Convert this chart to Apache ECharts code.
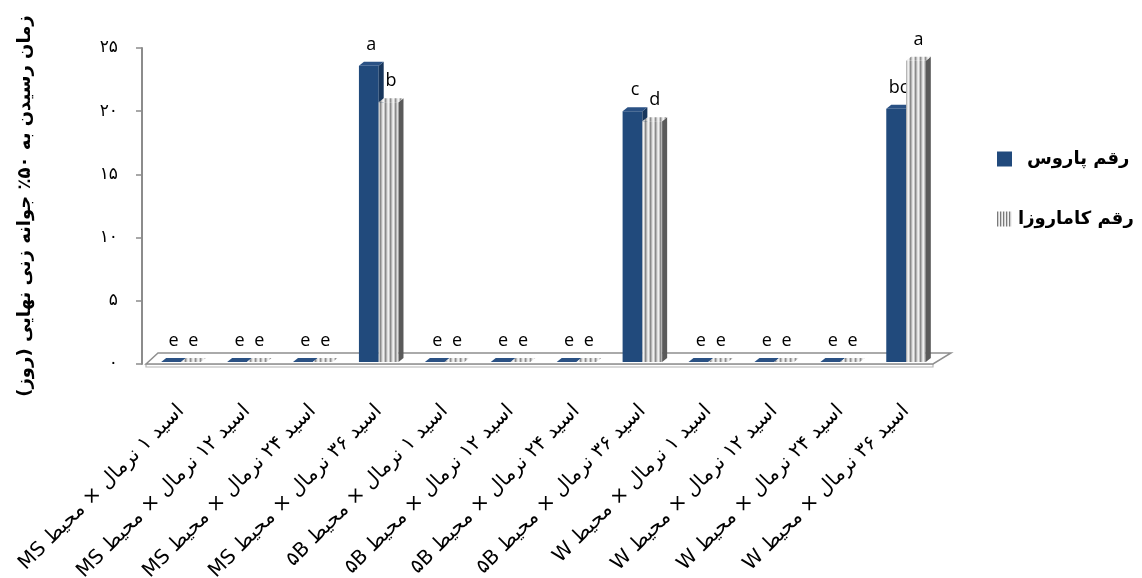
<!DOCTYPE html>
<html>
<head>
<meta charset="utf-8">
<script src="https://cdn.jsdelivr.net/npm/echarts@6/dist/echarts.min.js"></script>
<style>
  html, body { margin: 0; padding: 0; background: #ffffff; }
  #chart { width: 1142px; height: 578px; direction: rtl; }
</style>
</head>
<body>
<div id="chart"></div>
<script>
// Treatment combinations (acid concentration × culture medium)
const categories = [
  'اسید ۱ نرمال × محیط MS',
  'اسید ۱۲ نرمال × محیط MS',
  'اسید ۲۴ نرمال × محیط MS',
  'اسید ۳۶ نرمال × محیط MS',
  'اسید ۱ نرمال × محیط ۵B',
  'اسید ۱۲ نرمال × محیط ۵B',
  'اسید ۲۴ نرمال × محیط ۵B',
  'اسید ۳۶ نرمال × محیط ۵B',
  'اسید ۱ نرمال × محیط W',
  'اسید ۱۲ نرمال × محیط W',
  'اسید ۲۴ نرمال × محیط W',
  'اسید ۳۶ نرمال × محیط W'
];

// Days to 50% of final germination
const parosValues    = [0, 0, 0, 23.6, 0, 0, 0, 20.0, 0, 0, 0, 20.2];
const kamaroziValues = [0, 0, 0, 20.7, 0, 0, 0, 19.2, 0, 0, 0, 24.0];

// Mean-comparison letters
const parosLetters    = ['e', 'e', 'e', 'a', 'e', 'e', 'e', 'c', 'e', 'e', 'e', 'bc'];
const kamaroziLetters = ['e', 'e', 'e', 'b', 'e', 'e', 'e', 'd', 'e', 'e', 'e', 'a'];

const seriesNames = ['رقم پاروس', 'رقم کاماروزا'];
const yTickLabels = ['۰', '۵', '۱۰', '۱۵', '۲۰', '۲۵'];
const yAxisTitle = 'زمان رسیدن به ۵۰٪ جوانه زنی نهایی (روز)';

const ARABIC_FONT = '"DejaVu Sans", sans-serif';
const LETTER_FONT = '"Open Sans", "Liberation Sans", sans-serif';

// vertical stripe fills for the second cultivar
function stripeCanvas(cols) {
  const c = document.createElement('canvas');
  c.width = cols.length;
  c.height = 4;
  const g = c.getContext('2d');
  cols.forEach((col, i) => { g.fillStyle = col; g.fillRect(i, 0, 1, c.height); });
  return c;
}
const stripeFront = { image: stripeCanvas(['#8a8a8a', '#b4b4b4', '#dedede', '#f0f0f0', '#c6c6c6']), repeat: 'repeat' };
const stripeTop   = { image: stripeCanvas(['#8f8f8f', '#bcbcbc', '#e4e4e4', '#f2f2f2', '#cccccc']), repeat: 'repeat' };
const stripeIcon  = { image: stripeCanvas(['#7a7a7a', '#d0d0d0', '#f2f2f2']), repeat: 'repeat' };

const faces = [
  { front: '#214a7c', side: '#17365c', top: '#2a5184' },
  { front: stripeFront, side: '#5a5a5a', top: stripeTop }
];

const DEPTH_X = 5, DEPTH_Y = -4;

// pseudo-3D column: front face, right side face, top face and letter
function barRenderer(sideIdx, letters) {
  const f = faces[sideIdx];
  return function (params, api) {
    const idx = api.value(0);
    const val = api.value(1);
    const base = api.coord([idx, 0]);
    const top = api.coord([idx, val]);
    const band = api.size([1, 0])[0];
    const w = band * 0.3;
    const x0 = sideIdx === 0 ? base[0] - w : base[0];
    const x1 = x0 + w;
    const yb = base[1] - 2;
    const yt = Math.min(top[1], yb);
    const children = [];
    if (yb - yt > 0.5) {
      children.push({
        type: 'polygon',
        shape: { points: [[x0, yt], [x1, yt], [x1, yb], [x0, yb]] },
        style: { fill: f.front }
      });
      children.push({
        type: 'polygon',
        shape: { points: [[x1, yt], [x1 + DEPTH_X, yt + DEPTH_Y], [x1 + DEPTH_X, yb + DEPTH_Y], [x1, yb]] },
        style: { fill: f.side }
      });
    }
    children.push({
      type: 'polygon',
      shape: { points: [[x0, yt], [x0 + DEPTH_X, yt + DEPTH_Y], [x1 + DEPTH_X, yt + DEPTH_Y], [x1, yt]] },
      style: { fill: f.top }
    });
    children.push({
      type: 'text',
      x: (x0 + x1) / 2 + DEPTH_X / 2,
      y: yt + DEPTH_Y - 8,
      style: {
        text: letters[idx],
        fill: '#000',
        font: '18px ' + LETTER_FONT,
        align: 'center',
        verticalAlign: 'bottom'
      }
    });
    return { type: 'group', children: children };
  };
}

// thin floor slab under the columns
function floorRenderer(params) {
  const cs = params.coordSys;
  const x0 = cs.x, xr = cs.x + cs.width, yb = cs.y + cs.height;
  return {
    type: 'group',
    children: [
      {
        type: 'polygon',
        shape: { points: [[x0 - 2, yb], [xr - 6, yb], [xr - 6, yb + 3], [x0 - 2, yb + 3]] },
        style: { fill: '#ffffff', stroke: '#b4b4b4', lineWidth: 1.2 }
      },
      {
        type: 'polygon',
        shape: { points: [[x0 - 2, yb], [x0 + 10, yb - 11], [xr + 12, yb - 11], [xr - 6, yb]] },
        style: { fill: '#ffffff', stroke: '#8f8f8f', lineWidth: 1.5 }
      }
    ]
  };
}

const chart = echarts.init(document.getElementById('chart'), null, { renderer: 'canvas' });

const legendText = { color: '#000', fontSize: 18, fontWeight: 'bold', fontFamily: ARABIC_FONT };

chart.setOption({
  backgroundColor: '#ffffff',
  animation: false,
  grid: { left: 148, right: 203, top: 48, bottom: 214, containLabel: false, outerBoundsMode: 'none' },
  legend: {
    orient: 'vertical',
    left: 997,
    top: 150,
    padding: 0,
    itemWidth: 15,
    itemHeight: 15,
    itemGap: 42,
    selectedMode: false,
    data: [
      { name: seriesNames[0], icon: 'rect', itemStyle: { color: '#214a7c' },
        textStyle: Object.assign({ padding: [0, 0, 0, 10] }, legendText) },
      { name: seriesNames[1], icon: 'rect', itemStyle: { color: stripeIcon },
        textStyle: Object.assign({ padding: [0, 0, 0, 1] }, legendText) }
    ],
    textStyle: legendText
  },
  xAxis: {
    type: 'category',
    data: categories,
    axisLine: { show: false },
    axisTick: { show: false },
    splitLine: { show: false },
    axisLabel: {
      interval: 0,
      rotate: 45,
      margin: 44,
      color: '#000',
      fontSize: 20,
      fontFamily: ARABIC_FONT
    }
  },
  yAxis: {
    type: 'value',
    min: 0,
    max: 25,
    interval: 5,
    offset: 6,
    axisLine: { show: true, lineStyle: { color: '#8c8c8c', width: 2 } },
    axisTick: { show: true, length: 6, lineStyle: { color: '#8c8c8c', width: 1.5 } },
    splitLine: { show: false },
    axisLabel: {
      margin: 24,
      color: '#000',
      fontSize: 17,
      fontFamily: ARABIC_FONT,
      formatter: function (v) { return yTickLabels[Math.round(v / 5)]; }
    },
    name: yAxisTitle,
    nameLocation: 'middle',
    nameRotate: 90,
    nameGap: 108,
    nameTextStyle: { color: '#000', fontSize: 18, fontWeight: 'bold', fontFamily: ARABIC_FONT }
  },
  series: [
    {
      type: 'custom',
      name: 'floor',
      silent: true,
      z: 1,
      renderItem: floorRenderer,
      data: [0]
    },
    {
      type: 'custom',
      name: seriesNames[0],
      z: 2,
      itemStyle: { color: '#214a7c' },
      renderItem: barRenderer(0, parosLetters),
      data: parosValues.map((v, i) => [i, v])
    },
    {
      type: 'custom',
      name: seriesNames[1],
      z: 2,
      itemStyle: { color: stripeIcon },
      renderItem: barRenderer(1, kamaroziLetters),
      data: kamaroziValues.map((v, i) => [i, v])
    }
  ]
});
</script>
</body>
</html>
